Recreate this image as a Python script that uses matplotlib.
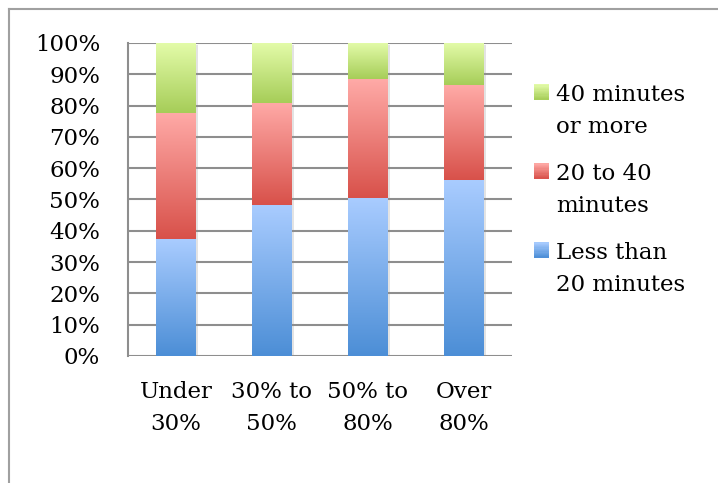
import matplotlib
matplotlib.use('Agg')
import matplotlib.pyplot as plt
import numpy as np
from matplotlib.colors import LinearSegmentedColormap
from matplotlib.patches import Rectangle
from matplotlib.legend_handler import HandlerBase
from matplotlib.lines import Line2D
import matplotlib.patheffects as pe

categories = ['Under\n30%', '30% to\n50%', '50% to\n80%', 'Over\n80%']
under_20 = [37.3, 48.2, 50.4, 56.2]
from_20_to_40 = [40.3, 32.6, 38.0, 30.3]
over_40 = [22.4, 19.2, 11.6, 13.5]
series_labels = ['Less than\n20 minutes', '20 to 40\nminutes', '40 minutes\nor more']

# (top colour, bottom colour) of each segment's vertical gradient
gradients = [('#A9CCFF', '#4C8ED6'),
             ('#FFAAA7', '#D8514A'),
             ('#E4FCAA', '#A6CD58')]

plt.rcParams['font.family'] = 'DejaVu Serif'
plt.rcParams['font.size'] = 16.5

fig = plt.figure(figsize=(7.18, 4.83), dpi=100)
ax = fig.add_axes([0.178, 0.263, 0.535, 0.648])

x = np.arange(len(categories))
width = 0.41
grad = np.linspace(1, 0, 256).reshape(-1, 1)
bottom = np.zeros(len(categories))
cmaps = []
for vals, (c_top, c_bot) in zip([under_20, from_20_to_40, over_40], gradients):
    vals = np.array(vals)
    cmap = LinearSegmentedColormap.from_list('seg', [c_bot, c_top])
    cmaps.append(cmap)
    bars = ax.bar(x, vals, width, bottom=bottom, color=c_bot, zorder=2,
                  path_effects=[pe.SimplePatchShadow(offset=(2, -1.5), shadow_rgbFace='#909090', alpha=0.25),
                                pe.Normal()])
    for bar in bars:
        bx, by = bar.get_x(), bar.get_y()
        ax.imshow(grad, cmap=cmap, aspect='auto', zorder=3, interpolation='bilinear',
                  extent=(bx, bx + bar.get_width(), by, by + bar.get_height()))
    bottom += vals

ax.set_xlim(-0.5, len(categories) - 0.5)
ax.set_ylim(0, 100)
ax.set_yticks(np.arange(0, 101, 10))
ax.set_yticklabels([f'{v}%' for v in range(0, 101, 10)])
ax.set_xticks(x)
ax.set_xticklabels(categories, linespacing=1.6)
ax.tick_params(axis='y', length=0, pad=20)
ax.tick_params(axis='x', length=0, pad=18)
ax.yaxis.grid(True, color='#8E8E8E', lw=1.5, zorder=1)
ax.set_axisbelow(True)
for side in ['top', 'right', 'bottom']:
    ax.spines[side].set_visible(False)
ax.spines['left'].set_color('#8E8E8E')
ax.spines['left'].set_linewidth(1.5)


class GradientSquare(HandlerBase):
    """Legend key drawn as a small vertical gradient, level with the first text line."""
    def create_artists(self, legend, orig_handle, xdescent, ydescent, width, height,
                       fontsize, trans):
        cmap = orig_handle
        lift = 0.85 * fontsize
        n = 12
        strips = []
        for i in range(n):
            r = Rectangle((-xdescent, -ydescent + lift + height * i / n), width, height / n + 0.1,
                          facecolor=cmap((i + 0.5) / n), edgecolor='none', transform=trans)
            strips.append(r)
        return strips


leg = ax.legend(cmaps[::-1], series_labels[::-1], loc='upper left',
                bbox_to_anchor=(1.005, 0.935), frameon=False,
                handler_map={LinearSegmentedColormap: GradientSquare()},
                handlelength=0.65, handleheight=0.65, handletextpad=0.3,
                labelspacing=1.1, fontsize=16.5)
for t in leg.get_texts():
    t.set_linespacing(1.58)

# outer border of the chart area
fig.add_artist(Line2D([8.5 / 718, 8.5 / 718], [0, 1 - 8.5 / 483], color='#A0A0A0', lw=1.5))
fig.add_artist(Line2D([8.5 / 718, 1], [1 - 8.5 / 483, 1 - 8.5 / 483], color='#A0A0A0', lw=1.5))

fig.savefig('out.png', dpi=100, facecolor='white')
